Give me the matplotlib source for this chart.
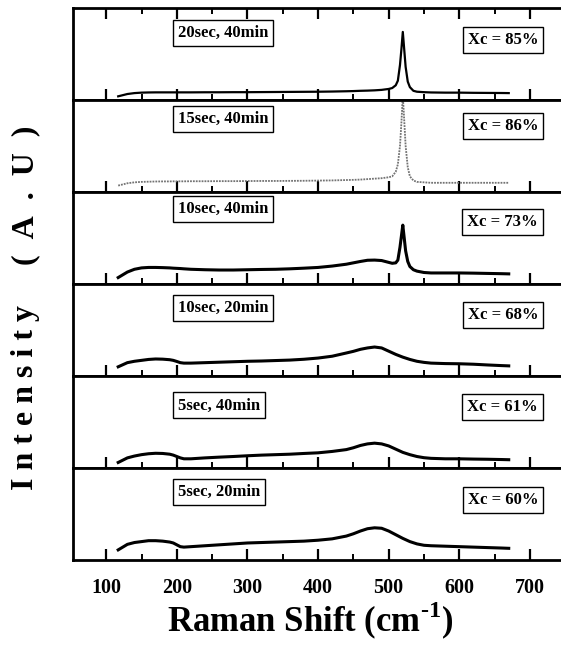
import matplotlib
matplotlib.use('Agg')
import matplotlib.pyplot as plt
from matplotlib.ticker import MultipleLocator

plt.rcParams['font.family'] = ['Liberation Serif', 'DejaVu Serif']
plt.rcParams['font.weight'] = 'bold'
plt.rcParams['mathtext.fontset'] = 'custom'
plt.rcParams['mathtext.rm'] = 'Liberation Serif:bold'
plt.rcParams['mathtext.bf'] = 'Liberation Serif:bold'

# raman shift grids (cm-1)
x_broad = [117, 130, 140, 150, 160, 170, 180, 190, 195, 200, 205, 210, 220, 240, 260,
           280, 300, 320, 340, 360, 380, 400, 420, 440, 450, 460, 470, 480, 490, 500,
           510, 520, 530, 540, 550, 560, 580, 600, 620, 640, 660, 670]
x_peak = [117, 130, 140, 150, 160, 170, 180, 190, 195, 200, 205, 210, 220, 240, 260,
          280, 300, 320, 340, 360, 380, 400, 420, 440, 450, 460, 470, 480, 490, 500,
          505, 510, 513, 516, 518, 520, 522, 524, 527, 530, 535,
          540, 550, 560, 580, 600, 620, 640, 660, 670]

# intensities, top panel first (arbitrary units, 0..1 of each panel)
i_20s40m = [0.04, 0.065, 0.075, 0.08, 0.082, 0.083, 0.083, 0.083, 0.083, 0.083, 0.083, 0.083,
            0.083, 0.084, 0.084, 0.085, 0.085, 0.086, 0.087, 0.088, 0.089, 0.09, 0.092, 0.095,
            0.097, 0.1, 0.102, 0.105, 0.11, 0.12,
            0.13, 0.16, 0.21, 0.38, 0.55, 0.74, 0.55, 0.36, 0.2, 0.14, 0.1,
            0.09, 0.085, 0.082, 0.08, 0.08, 0.078, 0.077, 0.076, 0.075]
i_15s40m = [0.07, 0.095, 0.105, 0.11, 0.112, 0.114, 0.115, 0.115, 0.116, 0.116, 0.116, 0.116,
            0.117, 0.117, 0.118, 0.118, 0.119, 0.12, 0.12, 0.121, 0.122, 0.124, 0.126, 0.13,
            0.132, 0.135, 0.14, 0.145, 0.15, 0.16,
            0.17, 0.22, 0.3, 0.5, 0.75, 1.05, 0.78, 0.5, 0.27, 0.17, 0.125,
            0.11, 0.105, 0.1, 0.1, 0.1, 0.1, 0.1, 0.1, 0.1]
i_10s40m = [0.07, 0.13, 0.16, 0.175, 0.18, 0.18, 0.178, 0.175, 0.172, 0.17, 0.168, 0.165,
            0.16, 0.155, 0.152, 0.152, 0.155, 0.158, 0.16, 0.165, 0.172, 0.18, 0.195, 0.215,
            0.23, 0.245, 0.258, 0.26, 0.255, 0.235,
            0.225, 0.23, 0.26, 0.4, 0.52, 0.64, 0.5, 0.36, 0.245, 0.19, 0.155,
            0.14, 0.125, 0.12, 0.12, 0.12, 0.118, 0.115, 0.112, 0.11]
i_10s20m = [0.1, 0.145, 0.16, 0.17, 0.18, 0.185, 0.183, 0.177, 0.17, 0.158, 0.145, 0.14,
            0.14, 0.145, 0.15, 0.155, 0.16, 0.163, 0.168, 0.173, 0.182, 0.195, 0.215, 0.25,
            0.268, 0.29, 0.305, 0.315, 0.305, 0.27,
            0.235, 0.205, 0.18, 0.16, 0.148, 0.14, 0.135, 0.133, 0.128, 0.12, 0.113, 0.11]
i_5s40m = [0.06, 0.11, 0.13, 0.145, 0.155, 0.16, 0.158, 0.15, 0.14, 0.125, 0.11, 0.1,
           0.1, 0.11, 0.118, 0.125, 0.133, 0.14, 0.145, 0.15, 0.158, 0.165, 0.18, 0.2,
           0.22, 0.245, 0.262, 0.27, 0.262, 0.24,
           0.205, 0.17, 0.145, 0.125, 0.112, 0.105, 0.1, 0.1, 0.097, 0.095, 0.092, 0.09]
i_5s20m = [0.11, 0.17, 0.19, 0.2, 0.21, 0.21, 0.205, 0.195, 0.185, 0.165, 0.145, 0.14,
           0.145, 0.155, 0.165, 0.175, 0.185, 0.19, 0.195, 0.2, 0.205, 0.215, 0.23, 0.26,
           0.285, 0.315, 0.34, 0.35, 0.345, 0.315,
           0.275, 0.235, 0.2, 0.175, 0.16, 0.155, 0.15, 0.145, 0.14, 0.135, 0.13, 0.127]

conditions = ['20sec, 40min', '15sec, 40min', '10sec, 40min',
              '10sec, 20min', '5sec, 40min', '5sec, 20min']
crystallinity = ['Xc = 85%', 'Xc = 86%', 'Xc = 73%', 'Xc = 68%', 'Xc = 61%', 'Xc = 60%']
xs = [x_peak, x_peak, x_peak, x_broad, x_broad, x_broad]
ys = [i_20s40m, i_15s40m, i_10s40m, i_10s20m, i_5s40m, i_5s20m]
xticks = [100, 200, 300, 400, 500, 600, 700]

# box heights inside each panel (axes fraction)
left_box_y = [0.73, 0.79, 0.82, 0.74, 0.68, 0.74]
right_box_y = [0.65, 0.72, 0.67, 0.66, 0.66, 0.65]

W, H = 561, 653
fig = plt.figure(figsize=(W / 100, H / 100), dpi=100)
left, right = 73 / W, 1.0
top, bottom = 1 - 8 / H, 1 - 560 / H
ph = (top - bottom) / 6

for i in range(6):
    ax = fig.add_axes([left, top - (i + 1) * ph, right - left, ph])
    if i == 1:
        ax.plot(xs[i], ys[i], color='0.45', lw=1.3, ls=(0, (1, 0.6)))
    elif i == 0:
        ax.plot(xs[i], ys[i], color='black', lw=1.6)
    else:
        ax.plot(xs[i], ys[i], color='black', lw=2.2)
    ax.set_xlim(53, 744)
    ax.set_ylim(0, 1)
    ax.set_yticks([])
    ax.xaxis.set_major_locator(MultipleLocator(100))
    ax.xaxis.set_minor_locator(MultipleLocator(50))
    ax.tick_params(axis='x', which='major', direction='in', length=8, width=1.6,
                   top=(i == 0), bottom=True, pad=13)
    ax.tick_params(axis='x', which='minor', direction='in', length=4, width=1.4,
                   top=(i == 0), bottom=True)
    for s in ['left', 'bottom', 'top']:
        ax.spines[s].set_linewidth(2.0)
    ax.spines['right'].set_visible(False)
    if i < 5:
        ax.set_xticklabels([])
    else:
        ax.set_xticks(xticks)
        ax.set_xticklabels([str(t) for t in xticks], fontsize=14.5, fontweight='bold')
    bbox = dict(boxstyle='square,pad=0.3', fc='white', ec='black', lw=1.0)
    ax.text(0.215, left_box_y[i], conditions[i], transform=ax.transAxes, ha='left',
            va='center', fontsize=12, fontweight='bold', bbox=bbox)
    ax.text(0.953, right_box_y[i], crystallinity[i], transform=ax.transAxes, ha='right',
            va='center', fontsize=12, fontweight='bold', bbox=bbox)

# y label in two pieces to mimic the wide letter spacing
fig.text(0.045, 1 - 397 / H, 'I n t e n s i t y', rotation=90, ha='center',
         va='center', fontsize=23, fontweight='bold')
fig.text(0.045, 1 - 195 / H, '(\u2002A\u2002.\u2002U\u2002)', rotation=90, ha='center',
         va='center', fontsize=23, fontweight='bold')
fig.text(0.553, 0.032, 'Raman Shift (cm$^{\u2010\\mathbf{1}}$)', ha='center', va='baseline',
         fontsize=25, fontweight='bold')

fig.savefig('out.png', dpi=100)
